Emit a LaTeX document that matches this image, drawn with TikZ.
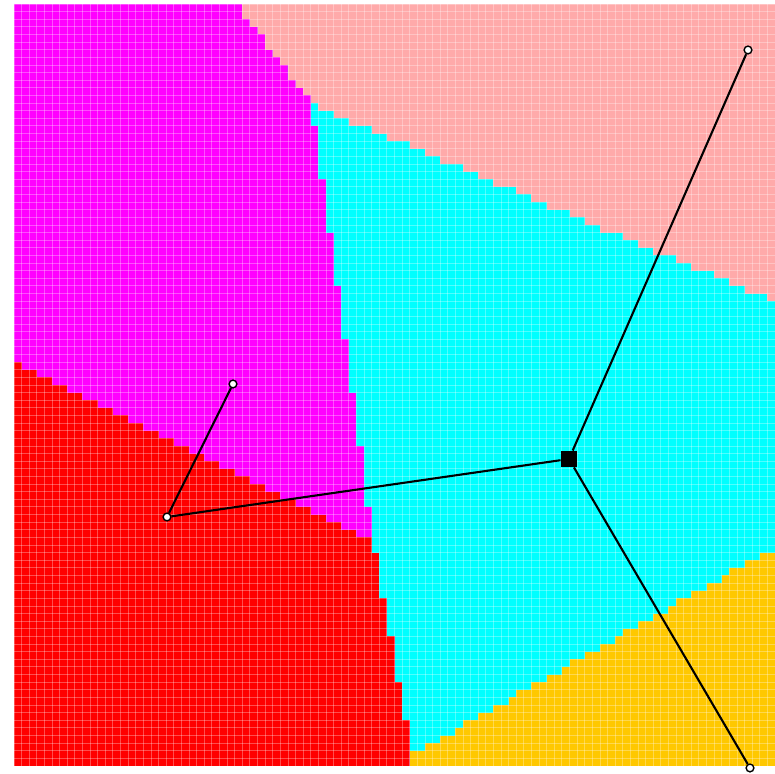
\documentclass[tikz,border=0pt]{standalone}
\definecolor{rosa}{RGB}{255,170,170}
\definecolor{naranja}{RGB}{255,200,0}
\definecolor{rojo}{RGB}{255,0,0}
\definecolor{fucsia}{RGB}{255,0,255}
\definecolor{celeste}{RGB}{0,255,255}
\begin{document}
\begin{tikzpicture}[x=0.01cm, y=-0.01cm]
            \useasboundingbox (0,0) rectangle (775,774);

            % Regiones, fila por fila
            \foreach \j in {0,...,99}{
                \pgfmathsetmacro\yt{4+\j*7.62}
                \pgfmathsetmacro\yb{\yt+7.62}
                \pgfmathsetmacro\yc{\yt+3.81}
                \pgfmathsetmacro\bone{\yc<362 ? 14 : (\yc<540 ? 14+(\yc-362)*2.0169 : 373+(\yc-540)*0.1814)}
                \pgfmathsetmacro\btwo{\yc<105 ? 236+(\yc-4)*0.7525 : (\yc<540 ? max(\bone,312+(\yc-105)*0.14023) : \bone)}
                \pgfmathsetmacro\bthree{\yc<105 ? \btwo : (\yc<547 ? min(775,312+(\yc-105)*2.3503) : max(\btwo,412+(755-\yc)*1.7452))}
                \pgfmathsetmacro\sone{14+round((\bone-14)/7.61)*7.61}
                \pgfmathsetmacro\stwo{14+round((\btwo-14)/7.61)*7.61}
                \pgfmathsetmacro\sthree{min(775,14+round((\bthree-14)/7.61)*7.61)}
                \ifdim\yc pt<400pt \def\ultimo{rosa}\else\def\ultimo{naranja}\fi
                \fill[rojo] (14,\yt) rectangle (\sone,\yb);
                \fill[fucsia] (\sone,\yt) rectangle (\stwo,\yb);
                \fill[celeste] (\stwo,\yt) rectangle (\sthree,\yb);
                \fill[\ultimo] (\sthree,\yt) rectangle (775,\yb);
            }

            % Rejilla
            \foreach \i in {0,...,100}{
                \draw[white, opacity=.3, line width=.25pt] ({14+\i*7.61},4) -- ({14+\i*7.61},766);
                \draw[white, opacity=.3, line width=.25pt] (14,{4+\i*7.62}) -- (775,{4+\i*7.62});
            }

            % Puntos
            \node[fill=black, minimum size=4.4pt, inner sep=0] (centro) at (569,459) {};
            \node[circle, draw, fill=white, line width=.4pt, minimum size=2.2pt, inner sep=0] (rosapt) at (748,50) {};
            \node[circle, draw, fill=white, line width=.4pt, minimum size=2.2pt, inner sep=0] (naranjapt) at (750,768) {};
            \node[circle, draw, fill=white, line width=.4pt, minimum size=2.2pt, inner sep=0] (rojopt) at (167,517) {};
            \node[circle, draw, fill=white, line width=.4pt, minimum size=2.2pt, inner sep=0] (magentapt) at (233,384) {};

            % Conexiones
            \draw[line width=.6pt] (centro) -- (rosapt);
            \draw[line width=.6pt] (centro) -- (naranjapt);
            \draw[line width=.6pt] (centro) -- (rojopt);
            \draw[line width=.6pt] (rojopt) -- (magentapt);
        \end{tikzpicture}
\end{document}
